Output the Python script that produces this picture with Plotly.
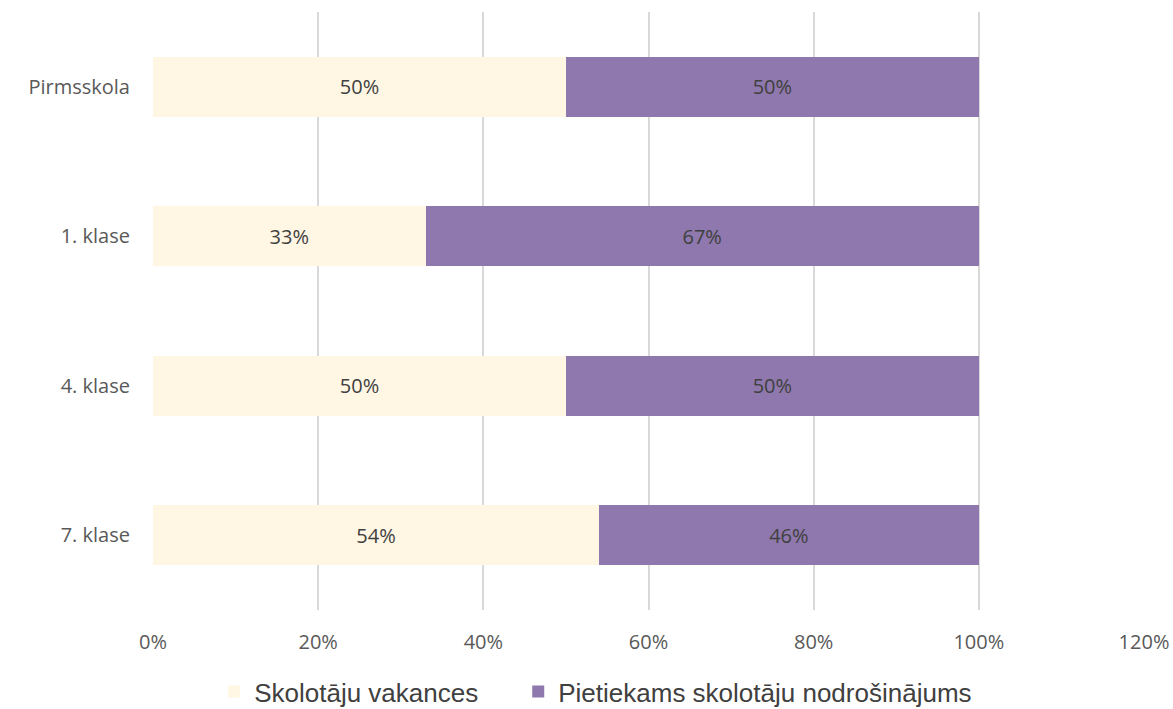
import plotly.graph_objects as go

categories = ["Pirmsskola", "1. klase", "4. klase", "7. klase"]
vakances = [50, 33, 50, 54]
pietiekams = [50, 67, 50, 46]
series_names = ["Skolotāju vakances", "Pietiekams skolotāju nodrošinājums"]
x_ticks = [0, 20, 40, 60, 80, 100, 120]
x_tick_labels = ["0%", "20%", "40%", "60%", "80%", "100%", "120%"]

label_font = dict(family="Open Sans", size=20, color="#404040")

fig = go.Figure()
fig.add_trace(go.Bar(
    y=categories, x=vakances, orientation="h", name=series_names[0],
    marker=dict(color="#FFF6E4", line=dict(width=0)),
    text=[f"{v}%" for v in vakances], textposition="inside",
    insidetextanchor="middle", textangle=0, textfont=label_font,
    hoverinfo="skip", legend="legend",
))
fig.add_trace(go.Bar(
    y=categories, x=pietiekams, orientation="h", name=series_names[1],
    marker=dict(color="#8E78AD", line=dict(width=0)),
    text=[f"{v}%" for v in pietiekams], textposition="inside",
    insidetextanchor="middle", textangle=0, textfont=label_font,
    hoverinfo="skip", legend="legend2",
))

legend_font = dict(family="Liberation Sans", size=26, color="#404040")

fig.update_layout(
    barmode="stack",
    bargap=0.6,
    width=1173, height=709,
    margin=dict(l=153, r=29, t=12, b=99, autoexpand=False),
    plot_bgcolor="white", paper_bgcolor="white",
    uniformtext=dict(mode=False),
    showlegend=True,
    legend=dict(
        orientation="h", xref="container", yref="container",
        x=0.1826, xanchor="left", y=0.0245, yanchor="middle",
        font=legend_font, itemwidth=30,
    ),
    legend2=dict(
        orientation="h", xref="container", yref="container",
        x=0.4418, xanchor="left", y=0.0245, yanchor="middle",
        font=legend_font, itemwidth=30,
    ),
    xaxis=dict(
        range=[0, 120], tickvals=x_ticks, ticktext=x_tick_labels,
        showgrid=True, gridcolor="#D9D9D9", gridwidth=1.5,
        zeroline=False, showline=False,
        tickfont=dict(family="Open Sans", size=20, color="#595959"),
        ticklabelstandoff=18,
    ),
    yaxis=dict(
        categoryorder="array", categoryarray=categories[::-1],
        showgrid=False, zeroline=False, showline=False,
        tickfont=dict(family="Open Sans", size=20, color="#595959"),
        ticklabelstandoff=22,
    ),
)

fig.write_html(
    "out.html",
    config={"displayModeBar": False},
    post_script="document.body.style.margin='0';document.body.style.overflow='hidden';",
)
